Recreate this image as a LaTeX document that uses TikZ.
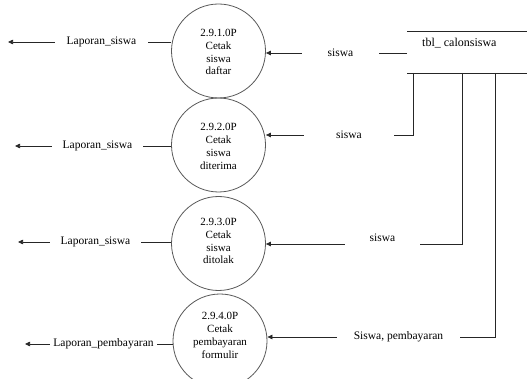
\documentclass[tikz,border=0pt]{standalone}
\usepackage{fontspec}
\setmainfont{Liberation Serif}
\usetikzlibrary{arrows.meta}
\begin{document}
\begin{tikzpicture}[x=1pt,y=-1pt,
  proc/.style={circle,draw=black!65,line width=0.8pt,minimum size=94pt,inner sep=0pt},
  ptext/.style={align=center,inner sep=0pt,font=\fontsize{11}{12.8}\selectfont},
  lab/.style={inner sep=0pt,font=\fontsize{11.5}{13}\selectfont},
  flow/.style={draw=black!85,line width=0.7pt},
  arr/.style={flow,-{Triangle[length=5pt,width=4.5pt]}}
]
\useasboundingbox (0,0) rectangle (527,379);
% processes
\node[proc] (c1) at (218.5,51) {};
\node[proc] (c2) at (218.5,145) {};
\node[proc] (c3) at (218.5,243.5) {};
\node[proc] (c4) at (220,341) {};
\node[ptext] (t1) at (218.5,52) {2.9.1.0P\\Cetak\\siswa\\daftar};
\node[ptext] (t2) at (218.5,146.5) {2.9.2.0P\\Cetak\\siswa\\diterima};
\node[ptext] (t3) at (218.5,241) {2.9.3.0P\\Cetak\\siswa\\ditolak};
\node[ptext] (t4) at (220,335.5) {2.9.4.0P\\Cetak\\pembayaran\\formulir};
% data store
\coordinate (sTL) at (407,31);
\coordinate (sTR) at (527,31);
\coordinate (sBL) at (407,73);
\coordinate (sBR) at (527,73);
\draw[flow] (sTL) -- (sTR);
\draw[flow] (sBL) -- (sBR);
\node[anchor=west,inner sep=0pt,font=\fontsize{12}{14}\selectfont] (store) at (422,43) {tbl\_ calonsiswa};
% right flows
\coordinate (s1) at (407,53);
\node[lab,minimum width=77pt] (r1) at (340.5,53) {siswa};
\draw[flow] (s1) -- (r1.east);
\draw[arr] (r1.west) -- (r1.west -| c1.east);

\coordinate (b2) at (413,73);
\coordinate (k2) at (413,135);
\node[lab,minimum width=90pt] (r2) at (349,135) {siswa};
\draw[flow] (b2) -- (k2) -- (r2.east);
\draw[arr] (r2.west) -- (r2.west -| c2.east);

\coordinate (b3) at (462,73);
\coordinate (k3) at (462,244);
\node[lab,minimum width=75pt] (r3) at (382.5,238) {siswa};
\draw[flow] (b3) -- (k3) -- (k3 -| r3.east);
\draw[arr] (k3 -| r3.west) -- (k3 -| c3.east);

\coordinate (b4) at (495,73);
\coordinate (k4) at (495,337);
\node[lab,minimum width=123pt] (r4) at (398.5,337) {Siswa, pembayaran};
\draw[flow] (b4) -- (k4) -- (r4.east);
\draw[arr] (r4.west) -- (r4.west -| c4.east);
% left flows
\node[lab,minimum width=93pt] (l1) at (101.5,42) {Laporan\_siswa};
\coordinate (e1) at (8,42);
\draw[flow] (l1.east -| c1.west) -- (l1.east);
\draw[arr] (l1.west) -- (e1);

\node[lab,minimum width=91pt] (l2) at (97.5,146) {Laporan\_siswa};
\coordinate (e2) at (15,146);
\draw[flow] (l2.east -| c2.west) -- (l2.east);
\draw[arr] (l2.west) -- (e2);

\node[lab,minimum width=91pt] (l3) at (95.5,242) {Laporan\_siswa};
\coordinate (e3) at (18,242);
\draw[flow] (l3.east -| c3.west) -- (l3.east);
\draw[arr] (l3.west) -- (e3);

\node[lab,minimum width=107pt] (l4) at (103.5,344) {Laporan\_pembayaran};
\coordinate (e4) at (25,344);
\draw[flow] (l4.east -| c4.west) -- (l4.east);
\draw[arr] (l4.west) -- (e4);
\end{tikzpicture}
\end{document}
